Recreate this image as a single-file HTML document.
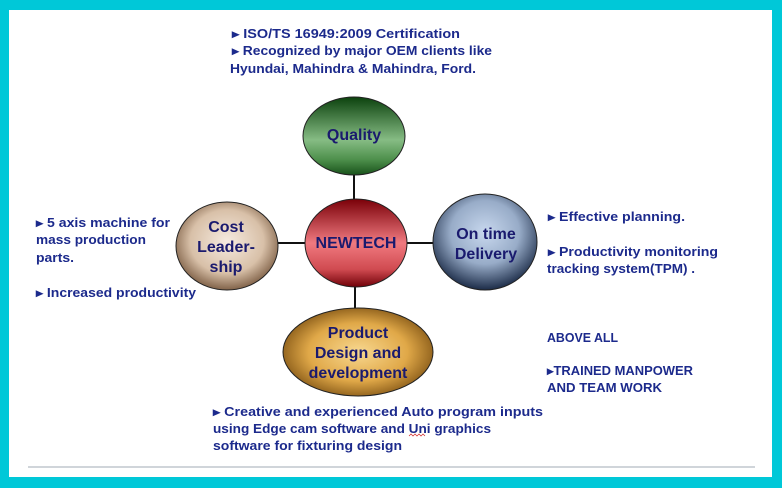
<!DOCTYPE html>
<html><head><style>
html,body{margin:0;padding:0;width:782px;height:488px;overflow:hidden;background:#00c8d8}
</style></head><body>
<svg width="782" height="488" xmlns="http://www.w3.org/2000/svg" style="display:block">
<defs>
<linearGradient id="gq" x1="0" y1="0" x2="0" y2="1"><stop offset="0" stop-color="#0c420e"/><stop offset="0.55" stop-color="#86bc84"/><stop offset="0.8" stop-color="#4e904c"/><stop offset="1" stop-color="#18521a"/></linearGradient>
<linearGradient id="gn" x1="0" y1="0" x2="0" y2="1"><stop offset="0" stop-color="#7a0008"/><stop offset="0.5" stop-color="#f07a80"/><stop offset="0.8" stop-color="#d04a50"/><stop offset="1" stop-color="#700008"/></linearGradient>
<radialGradient id="gc" cx="0.5" cy="0.45" r="0.6"><stop offset="0" stop-color="#f6ebe0"/><stop offset="0.6" stop-color="#d8c0a8"/><stop offset="1" stop-color="#6a4a30"/></radialGradient>
<radialGradient id="go" cx="0.5" cy="0.4" r="0.6"><stop offset="0" stop-color="#c8d8ee"/><stop offset="0.55" stop-color="#98acc8"/><stop offset="1" stop-color="#1c2c48"/></radialGradient>
<radialGradient id="gp" cx="0.5" cy="0.5" r="0.6"><stop offset="0" stop-color="#f8d890"/><stop offset="0.55" stop-color="#e0a848"/><stop offset="1" stop-color="#6a4008"/></radialGradient>
</defs>
<rect x="9" y="10" width="763" height="467" fill="#fff"/>
<line x1="28" y1="467" x2="755" y2="467" stroke="#b4bcc4" stroke-width="1.2"/>
<g stroke="#111" stroke-width="2">
<line x1="354" y1="170" x2="354" y2="200"/>
<line x1="355" y1="286" x2="355" y2="310"/>
<line x1="277" y1="243" x2="306" y2="243"/>
<line x1="406" y1="243" x2="434" y2="243"/>
</g>
<g stroke="#222" stroke-width="1">
<ellipse cx="354" cy="136" rx="51" ry="39" fill="url(#gq)"/>
<ellipse cx="356" cy="243" rx="51" ry="44" fill="url(#gn)"/>
<ellipse cx="227" cy="246" rx="51" ry="44" fill="url(#gc)"/>
<ellipse cx="485" cy="242" rx="52" ry="48" fill="url(#go)"/>
<ellipse cx="358" cy="352" rx="75" ry="44" fill="url(#gp)"/>
</g>
<g font-family="Liberation Sans, sans-serif" font-weight="bold" font-size="16" fill="#1a1a6e" text-anchor="middle">
<text x="354" y="140">Quality</text>
<text x="356" y="248">NEWTECH</text>
<text x="226" y="232">Cost</text>
<text x="226" y="252">Leader-</text>
<text x="226" y="272">ship</text>
<text x="486" y="239">On time</text>
<text x="486" y="259">Delivery</text>
<text x="358" y="338">Product</text>
<text x="358" y="358">Design and</text>
<text x="358" y="378">development</text>
</g>
<g font-family="Liberation Sans, sans-serif" font-weight="bold" font-size="12.5" fill="#1c2a8c">
<text x="232" y="38" textLength="228" lengthAdjust="spacingAndGlyphs">▸ ISO/TS 16949:2009 Certification</text>
<text x="232" y="55" textLength="260" lengthAdjust="spacingAndGlyphs">▸ Recognized by major OEM clients like</text>
<text x="230" y="73" textLength="246" lengthAdjust="spacingAndGlyphs">Hyundai, Mahindra &amp; Mahindra, Ford.</text>
<text x="36" y="227" textLength="134" lengthAdjust="spacingAndGlyphs">▸ 5 axis machine for</text>
<text x="36" y="244" textLength="110" lengthAdjust="spacingAndGlyphs">mass production</text>
<text x="36" y="262" textLength="38" lengthAdjust="spacingAndGlyphs">parts.</text>
<text x="36" y="297" textLength="160" lengthAdjust="spacingAndGlyphs">▸ Increased productivity</text>
<text x="548" y="221" textLength="137" lengthAdjust="spacingAndGlyphs">▸ Effective planning.</text>
<text x="548" y="256" textLength="170" lengthAdjust="spacingAndGlyphs">▸ Productivity monitoring</text>
<text x="547" y="273" textLength="148" lengthAdjust="spacingAndGlyphs">tracking system(TPM)  .</text>
<text x="547" y="342" textLength="71" lengthAdjust="spacingAndGlyphs">ABOVE ALL</text>
<text x="547" y="375" textLength="146" lengthAdjust="spacingAndGlyphs">▸TRAINED MANPOWER</text>
<text x="547" y="392" textLength="115" lengthAdjust="spacingAndGlyphs">AND  TEAM WORK</text>
<text x="213" y="416" textLength="330" lengthAdjust="spacingAndGlyphs">▸ Creative and experienced  Auto program inputs</text>
<text x="213" y="433" textLength="278" lengthAdjust="spacingAndGlyphs">using Edge cam software and Uni graphics</text>
<text x="213" y="450" textLength="189" lengthAdjust="spacingAndGlyphs">software for fixturing design</text>
</g>
<path d="M409 436 l2 -2 l2 2 l2 -2 l2 2 l2 -2 l2 2 l2 -2 l2 2" stroke="#d02020" stroke-width="0.7" fill="none"/>
</svg>
</body></html>
